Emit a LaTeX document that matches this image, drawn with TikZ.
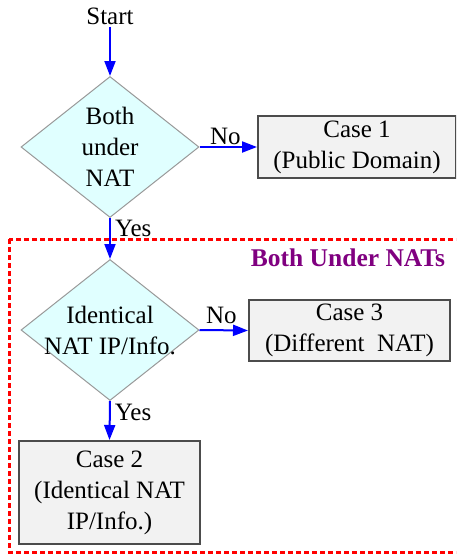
\documentclass[tikz,border=0pt]{standalone}
\usepackage{fontspec}
\setmainfont{Liberation Serif}
\usetikzlibrary{shapes.geometric, arrows.meta}
\definecolor{decfill}{HTML}{E0FFFF}
\definecolor{casefill}{HTML}{F2F2F2}
\definecolor{nats}{HTML}{800080}

\tikzset{
	decision/.style={diamond, draw=gray!80, fill=decfill, line width=1pt,
		minimum width=178pt, minimum height=141pt, inner sep=0pt},
	casebox/.style={rectangle, draw=black!70, fill=casefill, line width=2pt,
		align=center, inner sep=0pt},
	flow/.style={draw=blue, line width=2pt, -{Triangle[length=15pt,width=11pt]}},
	lbl/.style={font=\fontsize{25}{30}\selectfont, inner sep=1pt}
}

\begin{document}
\begin{tikzpicture}[x=1pt, y=-1pt, font=\fontsize{25}{31}\selectfont]
	\useasboundingbox (0,0) rectangle (456,554);
	\clip (0,0) rectangle (456,554);
	
	% group of both nats
	\draw[red, line width=3pt, dash pattern=on 5pt off 3pt] (9,239) rectangle (470,552);
	\node[font=\bfseries\fontsize{25.5}{30}\selectfont, text=nats] (natsl) at (348,258) {Both Under NATs};
	
	\node[inner sep=2pt] (start) at (110,16) {Start};
	
	\node[decision] (both) at (110,147) {};
	\node[align=center] (bothtxt) at (both) {Both\\under\\NAT};
	
	\node[decision] (ident) at (110,330) {};
	\node[align=center] (identtxt) at (ident) {Identical\\NAT IP/Info.};
	
	\node[casebox, minimum width=198pt, minimum height=62pt] (case1) at (357,147) {Case 1\\(Public Domain)};
	\node[casebox, minimum width=201pt, minimum height=61pt] (case3) at (349.5,330.5) {Case 3\\(Different~ NAT)};
	\node[casebox, minimum width=181pt, minimum height=103pt] (case2) at (109.5,492.5) {Case 2\\(Identical NAT\\IP/Info.)};
	
	\draw[flow] (start.south) -- (both.north);
	\draw[flow] (both.east) -- (case1.west) node[pos=0.45, above, lbl] {No};
	\draw[flow] (both.south) -- (ident.north) node[pos=0.25, right=3pt, lbl] {Yes};
	\draw[flow] (ident.east) -- (case3.west) node[pos=0.45, above=4pt, lbl] {No};
	\draw[flow] (ident.south) -- (case2.north) node[pos=0.3, right=3pt, lbl] {Yes};
\end{tikzpicture}
\end{document}
